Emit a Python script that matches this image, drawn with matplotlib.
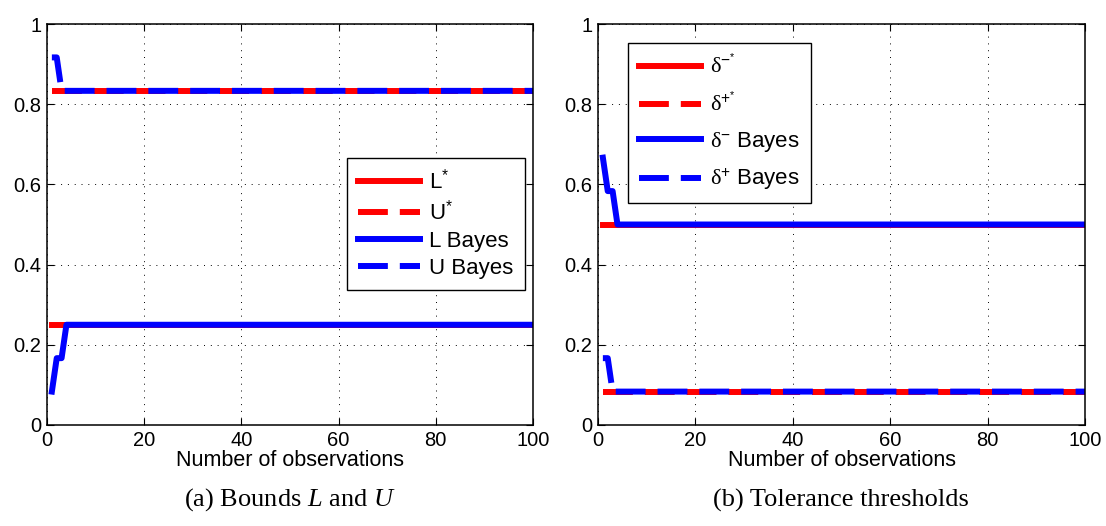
import matplotlib
matplotlib.use("Agg")
import matplotlib.pyplot as plt
import numpy as np

# observations 1..100
n_obs = np.arange(1, 101)

# (a) bounds
L_star = 0.25
U_star = 0.8333
L_bayes_start = [0.0833, 0.1667, 0.1667]
U_bayes_start = [0.9167, 0.9167]

# (b) tolerance thresholds
dminus_star = 0.5
dplus_star = 0.0833
dminus_bayes_start = [0.6667, 0.5833, 0.5833]
dplus_bayes_start = [0.1667, 0.1667]


def series(start, steady):
    return np.array(start + [steady] * (len(n_obs) - len(start)))


L_bayes = series(L_bayes_start, L_star)
U_bayes = series(U_bayes_start, U_star)
dminus_bayes = series(dminus_bayes_start, dminus_star)
dplus_bayes = series(dplus_bayes_start, dplus_star)

plt.rcParams["font.family"] = ["Liberation Sans", "DejaVu Sans"]
plt.rcParams["mathtext.fontset"] = "custom"
plt.rcParams["mathtext.rm"] = "Liberation Sans"
plt.rcParams["mathtext.it"] = "Liberation Serif:italic"
plt.rcParams["mathtext.sf"] = "Liberation Serif"

W, H = 1106, 526
fig = plt.figure(figsize=(W / 100, H / 100), dpi=100)

LW = 4.3
DASH = (0, (5, 2))


def make_ax(left, right):
    top, bottom = 24, 425
    ax = fig.add_axes([left / W, 1 - bottom / H, (right - left) / W, (bottom - top) / H])
    ax.set_xlim(0, 100)
    ax.set_ylim(0, 1)
    ax.set_xticks(np.arange(0, 101, 20))
    ax.set_yticks(np.arange(0, 1.01, 0.2))
    ax.set_yticklabels(["0", "0.2", "0.4", "0.6", "0.8", "1"])
    ax.tick_params(direction="in", top=True, right=True, labelsize=14.5, length=5, width=0.8, pad=4)
    ax.grid(True, color="black", linestyle=(0, (1, 6)), linewidth=0.7)
    for s in ax.spines.values():
        s.set_linewidth(1.1)
    ax.set_xlabel("Number of observations", fontsize=15.5, labelpad=0)
    return ax


leg_kw = dict(loc="upper left", fontsize=16, handlelength=2.8, handletextpad=0.4,
              borderaxespad=0, fancybox=False, framealpha=1, edgecolor="black", borderpad=0.5)

axa = make_ax(47, 533)
axa.plot(n_obs, [L_star] * len(n_obs), color="red", lw=LW, label=r"L$^{*}$")
axa.plot(n_obs, [U_star] * len(n_obs), color="red", lw=LW, ls=DASH, label=r"U$^{*}$")
axa.plot(n_obs, L_bayes, color="blue", lw=LW, label="L Bayes")
axa.plot(n_obs, U_bayes, color="blue", lw=LW, ls=DASH, label="U Bayes")
leg = axa.legend(bbox_to_anchor=((347 - 47) / 486, 1 - (158 - 24) / 401), labelspacing=0.28, **leg_kw)
leg.get_frame().set_linewidth(1.0)

axb = make_ax(598, 1085)
axb.plot(n_obs, [dminus_star] * len(n_obs), color="red", lw=LW, label=r"$\mathsf{\delta}^{-^{*}}$")
axb.plot(n_obs, [dplus_star] * len(n_obs), color="red", lw=LW, ls=DASH, label=r"$\mathsf{\delta}^{+^{*}}$")
axb.plot(n_obs, dminus_bayes, color="blue", lw=LW, label=r"$\mathsf{\delta}^{-}$ Bayes")
axb.plot(n_obs, dplus_bayes, color="blue", lw=LW, ls=DASH, label=r"$\mathsf{\delta}^{+}$ Bayes")
leg = axb.legend(bbox_to_anchor=((628 - 598) / 487, 1 - (43 - 24) / 401), labelspacing=0.6, **leg_kw)
leg.get_frame().set_linewidth(1.0)

cap_font = ["Liberation Serif", "DejaVu Serif"]
fig.text(290 / W, 1 - 500 / H, r"(a) Bounds $\mathit{L}$ and $\mathit{U}$", ha="center", va="center",
         fontsize=19, family=cap_font)
fig.text(841 / W, 1 - 500 / H, "(b) Tolerance thresholds", ha="center", va="center",
         fontsize=19, family=cap_font)

fig.savefig("out.png", dpi=100)
